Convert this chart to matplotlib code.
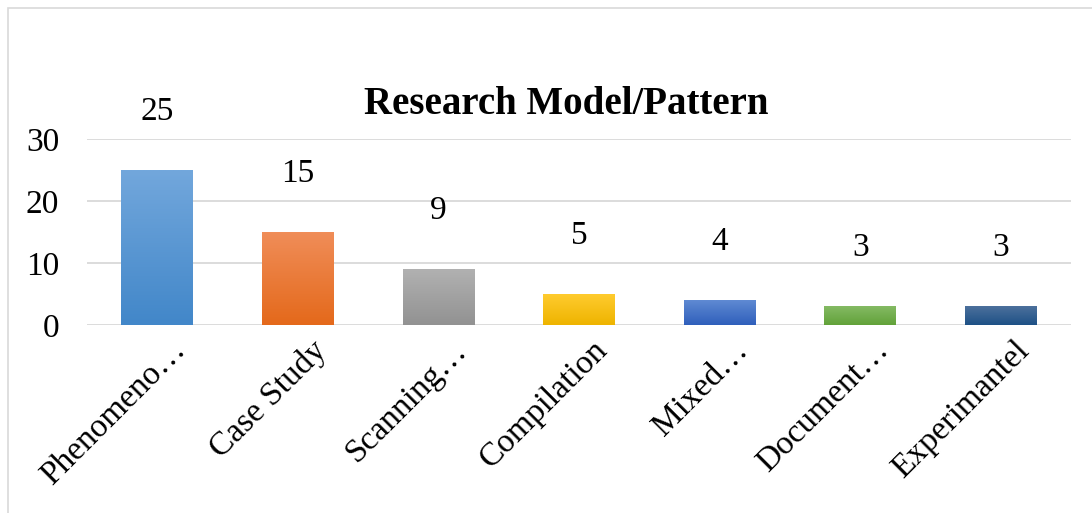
import matplotlib.pyplot as plt
import matplotlib.transforms as mtransforms
from matplotlib.colors import to_rgb
from matplotlib.patches import Rectangle
import numpy as np

plt.rcParams['font.family'] = ['Liberation Serif', 'DejaVu Serif']

categories = ["Phenomeno…", "Case Study", "Scanning…", "Compilation",
              "Mixed…", "Document…", "Experimantel"]
values = [25, 15, 9, 5, 4, 3, 3]
# top / bottom colours of each bar's vertical gradient
tops = ["#72A7DC", "#F08D58", "#B1B1B1", "#FFCB2E", "#5F8AD3", "#84BA63", "#4C709C"]
bottoms = ["#4287C9", "#E4691B", "#929292", "#EEB400", "#2F5FBB", "#62A23A", "#1E5186"]

fig = plt.figure(figsize=(10.92, 5.13), dpi=100)
fig.patches.append(Rectangle((8 / 1092, -0.01), 1.0, 1 - 8 / 513 + 0.01,
                             transform=fig.transFigure, fill=False,
                             edgecolor="#D9D9D9", linewidth=1.2))

ax = fig.add_axes([87 / 1092, 1 - 325 / 513, (1071 - 87) / 1092, (325 - 139) / 513])
x = np.arange(len(categories))
bars = ax.bar(x, values, width=0.51, color="none", zorder=3)

for bar, top, bot in zip(bars, tops, bottoms):
    c0 = np.array(to_rgb(top))
    c1 = np.array(to_rgb(bot))
    t = np.linspace(0, 1, 64)[:, None]
    grad = (c0 * (1 - t) + c1 * t)[:, None, :]
    bx, by = bar.get_x(), bar.get_y()
    w, h = bar.get_width(), bar.get_height()
    im = ax.imshow(grad, extent=[bx, bx + w, by, by + h], origin="upper",
                   aspect="auto", zorder=3)
    im.set_clip_path(bar)

for xi, v in zip(x, values):
    ax.annotate(str(v), (xi, v), xytext=(0, 42), textcoords="offset points",
                ha="center", va="center", fontsize=24)

ax.set_xlim(-0.5, len(categories) - 0.5)
ax.set_ylim(0, 30)
ax.set_yticks([0, 10, 20, 30])
ax.tick_params(axis="y", labelsize=24, length=0, pad=20)
ax.tick_params(axis="x", length=0)
ax.set_xticks(x)
ax.set_xticklabels(categories, fontsize=24, rotation=45, ha="right",
                   rotation_mode="anchor")
offset = mtransforms.ScaledTranslation(13 / 100, -5 / 100, fig.dpi_scale_trans)
for lbl in ax.get_xticklabels():
    lbl.set_transform(lbl.get_transform() + offset)

ax.grid(axis="y", color="#D9D9D9", linewidth=1.3, zorder=0)
ax.set_axisbelow(True)
for s in ax.spines.values():
    s.set_visible(False)

fig.text(566 / 1092, 1 - 105 / 513, "Research Model/Pattern", ha="center",
         va="center", fontsize=28, fontweight="bold")

plt.savefig("out.png", dpi=100)
